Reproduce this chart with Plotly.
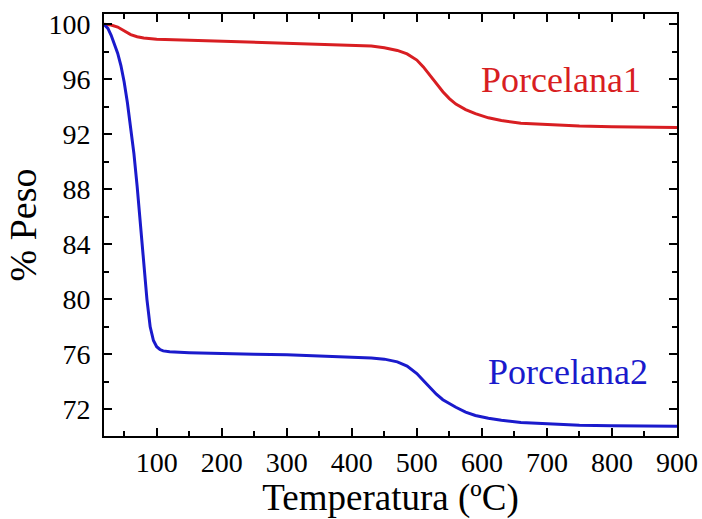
import plotly.graph_objects as go

temp_p1 = [19, 30, 40, 50, 60, 70, 80, 100, 150, 200, 250, 300, 350, 400, 430, 450, 470, 485,
           500, 510, 520, 530, 540, 550, 560, 575, 590, 610, 630, 660, 700, 750, 800, 850, 900]
peso_p1 = [100.0, 99.95, 99.8, 99.5, 99.25, 99.1, 99.0, 98.92, 98.85, 98.78, 98.72, 98.65, 98.58,
           98.5, 98.42, 98.3, 98.1, 97.85, 97.4, 96.9, 96.3, 95.7, 95.1, 94.6, 94.2, 93.8, 93.5,
           93.2, 93.0, 92.8, 92.7, 92.6, 92.55, 92.52, 92.5]

temp_p2 = [19, 25, 30, 35, 40, 45, 50, 55, 60, 65, 70, 75, 80, 85, 90, 95, 100, 105, 110, 120,
           150, 200, 250, 300, 350, 400, 430, 450, 470, 485, 500, 510, 520, 530, 540, 550, 560,
           575, 590, 610, 630, 660, 700, 750, 800, 850, 900]
peso_p2 = [100.0, 99.7, 99.2, 98.6, 97.9, 97.0, 95.8, 94.3, 92.6, 90.6, 88.2, 85.5, 82.5, 80.0,
           78.0, 77.0, 76.55, 76.35, 76.25, 76.18, 76.12, 76.05, 76.0, 75.97, 75.9, 75.82, 75.74,
           75.65, 75.45, 75.15, 74.6, 74.1, 73.6, 73.1, 72.7, 72.4, 72.15, 71.8, 71.55, 71.35,
           71.2, 71.05, 70.95, 70.85, 70.8, 70.78, 70.76]

labels = ["Porcelana1", "Porcelana2"]
label_pos = [(721, 95.95), (732, 74.7)]
colors = ["#d81e22", "#1a1acc"]

fig = go.Figure()
fig.add_trace(go.Scatter(x=temp_p1, y=peso_p1, mode="lines",
                         line=dict(color=colors[0], width=3), showlegend=False))
fig.add_trace(go.Scatter(x=temp_p2, y=peso_p2, mode="lines",
                         line=dict(color=colors[1], width=3), showlegend=False))

for lab, (lx, ly), c in zip(labels, label_pos, colors):
    fig.add_annotation(x=lx, y=ly, text=lab, showarrow=False,
                       font=dict(family="Liberation Serif", size=36, color=c))

axis_common = dict(showline=True, linecolor="black", linewidth=2, mirror="ticks",
                   ticks="inside", ticklen=8, tickwidth=2, tickcolor="black",
                   showgrid=False, zeroline=False, automargin=False,
                   tickfont=dict(family="Liberation Serif", size=28, color="black"))

fig.update_xaxes(range=[19, 900], tick0=0, dtick=100,
                 minor=dict(ticks="inside", ticklen=5, tickwidth=2, dtick=50, tick0=0,
                            tickcolor="black", showgrid=False),
                 title=dict(text="Temperatura (ºC)", standoff=4,
                            font=dict(family="Liberation Serif", size=37, color="black")),
                 **axis_common)
fig.update_yaxes(range=[70.06, 100.75], tick0=72, dtick=4,
                 minor=dict(ticks="inside", ticklen=5, tickwidth=2, dtick=2, tick0=72,
                            tickcolor="black", showgrid=False),
                 title=dict(text="% Peso", standoff=0,
                            font=dict(family="Liberation Serif", size=38, color="black")),
                 ticklabelstandoff=6,
                 **axis_common)

fig.update_layout(width=702, height=519,
                  margin=dict(l=104, r=25, t=14, b=83),
                  paper_bgcolor="white", plot_bgcolor="white")

# remove the page's default body margin so the figure fills the 702x519 window exactly
fig.write_html("out.html",
               config={"displayModeBar": False},
               post_script="document.body.style.margin='0';document.body.style.overflow='hidden';")
